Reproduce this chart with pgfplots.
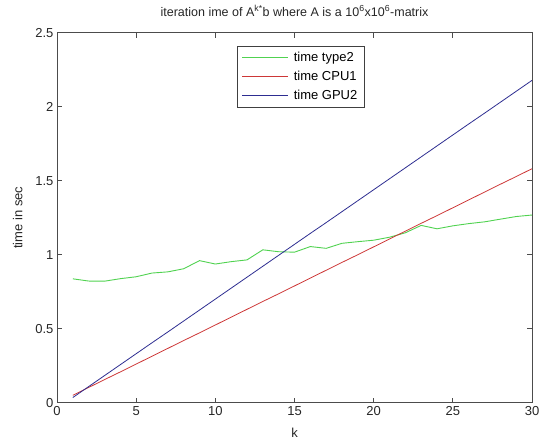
\documentclass[border=0pt]{standalone}
\usepackage{pgfplots}
\pgfplotsset{compat=1.18}
\usepackage{fontspec}
\setmainfont{Liberation Sans}
\definecolor{cgreen}{RGB}{80,210,80}
\definecolor{cred}{RGB}{205,55,55}
\definecolor{cblue}{RGB}{45,45,145}
\begin{document}
\begin{tikzpicture}
\begin{axis}[name=ax, scale only axis, width=475pt, height=370pt,
  xmin=0, xmax=30, ymin=0, ymax=2.5,
  xtick={0,5,...,30}, ytick={0,0.5,...,2.5},
  tick align=inside, major tick length=5pt,
  axis line style={black!70, line width=0.7pt},
  tick style={black!70, line width=0.7pt},
  /pgf/number format/assume math mode=true,
  /pgf/number format/fixed,
  tick label style={font=\fontsize{13}{15}\selectfont, text=black!85},
  label style={font=\fontsize{13}{15}\selectfont, text=black!85},
  xlabel={k}, ylabel={time in sec},
  xlabel style={at={(axis description cs:0.5,-0.0946)}, anchor=base},
  ylabel style={at={(axis description cs:-0.073,0.5)}, anchor=base, rotate=0},
  title={iteration ime of A\textsuperscript{k*}b where A is a 10\textsuperscript{6}x10\textsuperscript{6}-matrix},
  title style={at={(axis description cs:0.5,1)}, anchor=base, yshift=10.5pt, font=\fontsize{12.5}{15}\selectfont, text=black!85},
  legend cell align=left,
  legend image code/.code={\draw[#1] (0pt,0pt) -- (46pt,0pt);},
  legend style={at={(axis description cs:0.378,0.964)}, anchor=north west,
    draw=black!75, line width=0.7pt, fill=white, font=\fontsize{13}{15}\selectfont,
    inner xsep=5pt, inner ysep=4pt, row sep=4pt, column sep=3pt},
]
\addplot[cgreen, line width=0.9pt] coordinates {
(1,0.837) (2,0.822) (3,0.821) (4,0.838) (5,0.851) (6,0.876) (7,0.884) (8,0.905)
(9,0.960) (10,0.937) (11,0.953) (12,0.965) (13,1.033) (14,1.020) (15,1.017)
(16,1.055) (17,1.043) (18,1.077) (19,1.088) (20,1.098) (21,1.118) (22,1.148)
(23,1.198) (24,1.175) (25,1.195) (26,1.210) (27,1.222) (28,1.240) (29,1.258) (30,1.268)};
\addlegendentry{time type2}
\addplot[cred, line width=0.8pt] coordinates {
(1,0.050) (2,0.103) (3,0.156) (4,0.208) (5,0.261) (6,0.314) (7,0.367) (8,0.420)
(9,0.472) (10,0.525) (11,0.578) (12,0.631) (13,0.684) (14,0.736) (15,0.789)
(16,0.842) (17,0.895) (18,0.948) (19,1.000) (20,1.053) (21,1.106) (22,1.159)
(23,1.212) (24,1.264) (25,1.317) (26,1.370) (27,1.423) (28,1.476) (29,1.528) (30,1.581)};
\addlegendentry{time CPU1}
\addplot[cblue, line width=0.8pt] coordinates {
(1,0.035) (2,0.109) (3,0.183) (4,0.257) (5,0.331) (6,0.405) (7,0.478) (8,0.552)
(9,0.626) (10,0.700) (11,0.774) (12,0.848) (13,0.922) (14,0.996) (15,1.070)
(16,1.144) (17,1.217) (18,1.291) (19,1.365) (20,1.439) (21,1.513) (22,1.587)
(23,1.661) (24,1.735) (25,1.809) (26,1.883) (27,1.956) (28,2.030) (29,2.104) (30,2.178)};
\addlegendentry{time GPU2}
\end{axis}
\pgfresetboundingbox
\path ([xshift=-57pt,yshift=-39.3pt]ax.south west) rectangle ([xshift=8pt,yshift=32.7pt]ax.north east);
\end{tikzpicture}
\end{document}
